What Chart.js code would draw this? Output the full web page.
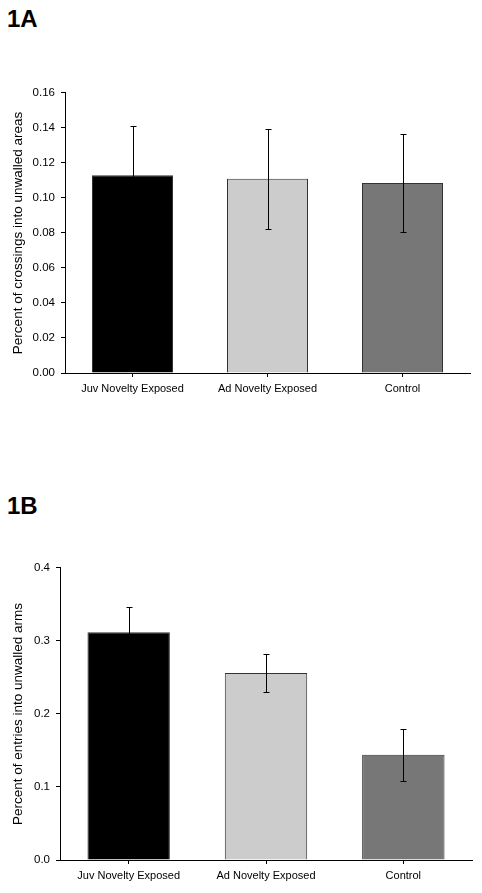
<!DOCTYPE html>
<html>
<head>
<meta charset="utf-8">
<script src="https://cdn.jsdelivr.net/npm/chart.js@4.4.1/dist/chart.umd.min.js"></script>
<style>
  html, body { margin: 0; padding: 0; background: #fff; }
  body { width: 482px; height: 893px; position: relative; overflow: hidden; font-family: "Liberation Sans", Arial, sans-serif; }
  .panel-label { position: absolute; left: 7px; font-weight: bold; font-size: 24px; line-height: 24px; color: #000; }
  canvas { position: absolute; left: 0; }
</style>
</head>
<body>
<div class="panel-label" style="top:7px;">1A</div>
<div class="panel-label" style="top:494px;">1B</div>
<canvas id="chart-a" width="482" height="330" style="top:80px;"></canvas>
<canvas id="chart-b" width="482" height="338" style="top:555px;"></canvas>
<script>
// ── Data ───────────────────────────────────────────────────
const categories    = ["Juv Novelty Exposed", "Ad Novelty Exposed", "Control"];
const barColors     = ["#000000", "#cccccc", "#777777"];

const crossingsMean = [0.113, 0.111, 0.1085];
const crossingsErr  = [0.028, 0.0285, 0.028];
const crossingsAxis = { max: 0.16, step: 0.02, decimals: 2 };

const entriesMean   = [0.312, 0.256, 0.144];
const entriesErr    = [0.035, 0.026, 0.036];
const entriesAxis   = { max: 0.4, step: 0.1, decimals: 1 };

// ── Error bars (drawn through the y scale) ─────────────────
const errorBarPlugin = {
    id: "errorBars",
    afterDatasetsDraw(chart, args, opts) {
        const ctx  = chart.ctx;
        const meta = chart.getDatasetMeta(0);
        const ys   = chart.scales.y;
        const vals = chart.data.datasets[0].data;
        ctx.save();
        ctx.strokeStyle = "#000";
        ctx.lineWidth = 1;
        meta.data.forEach((bar, i) => {
            const x  = Math.round(bar.x) + 0.5;
            const y1 = Math.round(ys.getPixelForValue(vals[i] + opts.errors[i])) + 0.5;
            const y2 = Math.round(ys.getPixelForValue(vals[i] - opts.errors[i])) + 0.5;
            ctx.beginPath();
            ctx.moveTo(x, y1); ctx.lineTo(x, y2);
            ctx.moveTo(x - 3, y1); ctx.lineTo(x + 3, y1);
            ctx.moveTo(x - 3, y2); ctx.lineTo(x + 3, y2);
            ctx.stroke();
        });
        ctx.restore();
    },
};

const fontFamily = "'Liberation Sans', Arial, sans-serif";

function makeChart(id, means, errors, axis, title, layout) {
    return new Chart(document.getElementById(id), {
        type: "bar",
        data: {
            labels: categories,
            datasets: [{
                data: means,
                backgroundColor: barColors,
                borderColor: "#333",
                borderWidth: 1,
                borderSkipped: "bottom",
                barPercentage: 0.6,
                categoryPercentage: 1,
            }],
        },
        options: {
            responsive: false,
            animation: false,
            devicePixelRatio: 1,
            layout: { padding: layout.padding },
            plugins: {
                legend: { display: false },
                tooltip: { enabled: false },
                errorBars: { errors: errors },
            },
            scales: {
                x: {
                    grid: { display: true, drawOnChartArea: false, offset: false, tickLength: 4, color: "#000" },
                    border: { display: true, color: "#000", width: 1 },
                    ticks: { color: "#000", font: { family: fontFamily, size: 11 }, padding: 5, maxRotation: 0 },
                    afterFit: (s) => { s.height = layout.xHeight; },
                },
                y: {
                    min: 0,
                    max: axis.max,
                    grid: { display: true, drawOnChartArea: false, tickLength: 4, color: "#000" },
                    border: { display: true, color: "#000", width: 1 },
                    ticks: {
                        stepSize: axis.step,
                        color: "#000",
                        padding: 6,
                        font: { family: fontFamily, size: 11.5 },
                        callback: (v) => Number(v).toFixed(axis.decimals),
                    },
                    title: {
                        display: true,
                        text: title,
                        color: "#000",
                        font: { family: fontFamily, size: 13.5 },
                        padding: { top: 10, bottom: 0 },
                    },
                    afterFit: (s) => { s.width = layout.yWidth; },
                },
            },
        },
        plugins: [errorBarPlugin],
    });
}

// ── Charts ─────────────────────────────────────────────────
makeChart("chart-a", crossingsMean, crossingsErr, crossingsAxis,
    "Percent of crossings into unwalled areas",
    { padding: { top: 9, right: 12, left: 0, bottom: 0 }, xHeight: 37, yWidth: 65 });

makeChart("chart-b", entriesMean, entriesErr, entriesAxis,
    "Percent of entries into unwalled arms",
    { padding: { top: 10, right: 10, left: 0, bottom: 0 }, xHeight: 33, yWidth: 60 });
</script>
</body>
</html>
